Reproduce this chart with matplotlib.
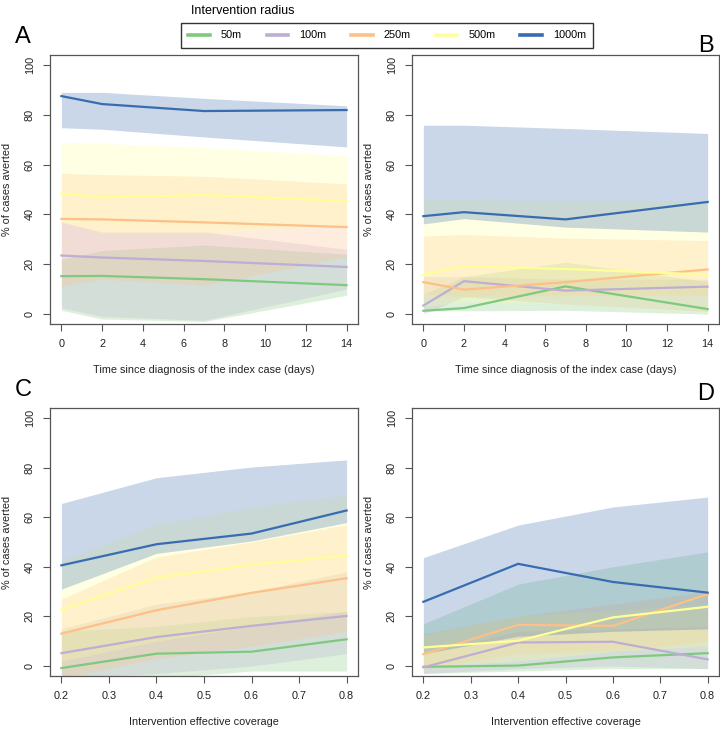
import matplotlib
matplotlib.use("Agg")
import matplotlib.pyplot as plt
from matplotlib.lines import Line2D

plt.rcParams['font.family'] = ['Liberation Sans', 'DejaVu Sans']

radii = ['50m', '100m', '250m', '500m', '1000m']
colors = ['#7fc97f', '#beaed4', '#fdc086', '#ffff99', '#386cb0']

days = [0, 2, 7, 14]
coverage = [0.2, 0.4, 0.6, 0.8]

# panel A: time since diagnosis, scenario 1  (mean, low, high) per radius
a_mean = [[15.2, 15.3, 14.0, 11.6], [23.5, 22.7, 21.3, 18.9], [38.2, 38.0, 36.8, 34.9],
          [48.5, 46.8, 47.8, 45.4], [87.5, 84.3, 81.5, 81.9]]
a_low = [[1.5, -2.0, -3.0, 7.5], [2.5, -1.0, -2.5, 10.0], [11.0, 14.0, 11.5, 23.0],
         [37.0, 32.5, 32.5, 36.0], [74.8, 74.2, 71.1, 67.1]]
a_high = [[22.0, 25.5, 27.7, 24.0], [37.0, 33.0, 33.0, 26.0], [56.5, 56.0, 55.3, 52.3],
          [69.0, 68.5, 66.8, 63.5], [89.0, 89.0, 86.6, 83.6]]

# panel B: time since diagnosis, scenario 2
b_mean = [[1.3, 2.4, 11.1, 2.0], [3.4, 13.2, 9.4, 11.0], [12.8, 9.8, 12.8, 17.9],
          [15.8, 19.1, 18.1, 15.8], [39.3, 40.9, 38.0, 45.0]]
b_low = [[1.3, 1.3, 1.5, 0.0], [0.0, 7.0, 4.0, 1.0], [8.0, 7.0, 7.5, 7.5],
         [3.0, 5.0, 4.0, 0.5], [36.2, 38.3, 34.9, 32.9]]
b_high = [[8.0, 15.0, 20.8, 13.0], [15.0, 15.0, 14.0, 14.0], [31.3, 31.9, 30.5, 29.5],
          [46.3, 46.0, 45.5, 45.5], [75.8, 75.8, 74.5, 72.5]]

# panel C: effective coverage, scenario 1
c_mean = [[-0.8, 5.0, 5.8, 10.8], [5.2, 11.7, 16.2, 20.2], [13.1, 22.5, 29.5, 35.4],
          [22.7, 35.7, 40.8, 44.6], [40.6, 49.1, 53.4, 62.7]]
c_low = [[-5.0, -5.0, -2.0, -2.0], [-5.0, -3.0, 0.0, 5.0], [-5.0, 3.0, 8.0, 14.0],
         [2.0, 10.0, 16.0, 22.0], [31.0, 45.4, 50.4, 57.8]]
c_high = [[14.0, 16.0, 20.0, 22.0], [15.0, 25.0, 30.0, 38.0], [27.0, 44.0, 50.0, 57.0],
          [42.5, 57.0, 64.0, 69.0], [65.5, 75.9, 80.2, 83.1]]

# panel D: effective coverage, scenario 2
d_mean = [[-0.3, 0.2, 3.5, 5.2], [-0.5, 9.5, 9.8, 2.7], [4.8, 16.6, 16.2, 29.0],
          [7.5, 10.2, 19.6, 23.9], [25.9, 41.2, 33.9, 29.6]]
d_low = [[-3.0, -2.0, -1.0, -1.0], [-3.0, -1.0, 0.0, -1.0], [-1.0, 5.0, 6.0, 10.0],
         [0.0, 2.0, 6.0, 8.0], [5.0, 12.0, 14.0, 15.0]]
d_high = [[17.0, 33.0, 40.0, 46.0], [5.0, 14.0, 15.0, 16.0], [13.0, 20.0, 25.0, 30.0],
          [12.5, 20.2, 22.3, 24.9], [43.7, 56.8, 64.1, 68.1]]

W, H = 720, 729
fig = plt.figure(figsize=(W / 100, H / 100), dpi=100)


def box(l, t, r, b):
    return [l / W, 1 - b / H, (r - l) / W, (b - t) / H]


panels = [
    ('A', box(50, 55, 358, 324), days, a_mean, a_low, a_high,
     'Time since diagnosis of the index case (days)', (23, 37)),
    ('B', box(412, 55, 719, 324), days, b_mean, b_low, b_high,
     'Time since diagnosis of the index case (days)', (706, 46)),
    ('C', box(50, 408, 358, 676), coverage, c_mean, c_low, c_high,
     'Intervention effective coverage', (23, 390)),
    ('D', box(412, 408, 719, 676), coverage, d_mean, d_low, d_high,
     'Intervention effective coverage', (706, 394)),
]

edge = '#555555'
for letter, rect, x, mean, low, high, xlab, lpos in panels:
    ax = fig.add_axes(rect)
    for i in range(len(radii)):
        ax.fill_between(x, low[i], high[i], color=colors[i], alpha=0.27, linewidth=0)
    for i in range(len(radii)):
        ax.plot(x, mean[i], color=colors[i], linewidth=1.6)
    span = x[-1] - x[0]
    ax.set_xlim(x[0] - 0.04 * span, x[-1] + 0.04 * span)
    ax.set_ylim(-4, 104)
    if x is days:
        ax.set_xticks(range(0, 15, 2))
    else:
        ax.set_xticks([0.2, 0.3, 0.4, 0.5, 0.6, 0.7, 0.8])
        ax.set_xticklabels(['0.2', '0.3', '0.4', '0.5', '0.6', '0.7', '0.8'])
    ax.set_yticks(range(0, 101, 20))
    ax.set_yticklabels([str(v) for v in range(0, 101, 20)], rotation=90, va='center')
    ax.tick_params(direction='out', length=5, width=0.8, color=edge, labelsize=7.8,
                   labelcolor='#222222', pad=6)
    for s in ax.spines.values():
        s.set_color(edge)
        s.set_linewidth(0.9)
    ax.set_xlabel(xlab, fontsize=7.8, color='#222222', labelpad=11)
    ax.set_ylabel('% of cases averted', fontsize=7.8, color='#222222', labelpad=9)
    fig.text(lpos[0] / W, 1 - lpos[1] / H, letter, fontsize=17, ha='center', va='center')

handles = [Line2D([], [], color=c, linewidth=2.6) for c in colors]
leg = fig.legend(handles, radii, loc='center', bbox_to_anchor=(387 / W, 1 - 35.5 / H),
                 ncol=5, fontsize=7.8, frameon=True, fancybox=False, handlelength=2.0,
                 handletextpad=1.0, columnspacing=2.3, borderpad=0.7)
leg.get_frame().set_edgecolor('black')
leg.get_frame().set_linewidth(1.0)
fig.text(243 / W, 1 - 11 / H, 'Intervention radius', fontsize=9, ha='center', va='center')

fig.savefig('out.png', dpi=100)
